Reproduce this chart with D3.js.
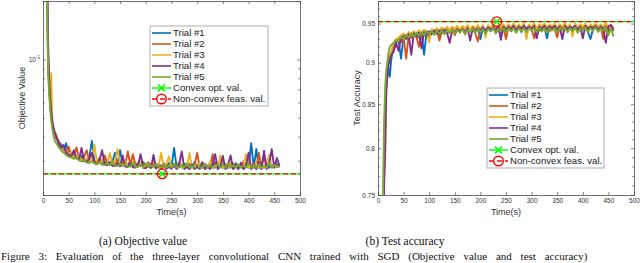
<!DOCTYPE html>
<html><head><meta charset="utf-8">
<script src="https://cdn.jsdelivr.net/npm/d3@7"></script>
<style>
body{margin:0;background:#fff}
svg{display:block}
</style>
</head><body>
<svg id="c" width="640" height="263"></svg>
<script>
// ---------------- DATA ----------------
const times = [5,8,10,12,14,16,18,20,23,26,
 30,35,40,45,50,55,60,65,70,75,80,85,90,95,100,105,110,115,120,125,130,135,140,145,150,
 155,160,165,170,175,180,185,190,195,200,205,210,215,220,225,230,235,240,245,250,
 255,260,265,270,275,280,285,290,295,300,305,310,315,320,325,330,335,340,345,350,
 355,360,365,370,375,380,385,390,395,400,405,410,415,420,425,430,435,440,445,450,455,460];

const trialNames = ["Trial #1","Trial #2","Trial #3","Trial #4","Trial #5"];
const trialColors = ["#0072BD","#D95319","#EDB120","#7E2F8E","#77AC30"];

// Objective value (log scale)
const objTrial1 = [0.5,0.22,0.095,0.072,0.060,0.052,0.047,0.044,0.041,0.040,
 .0375,.0365,.0335,.037,.0322,.0318,.0330,.0311,.0306,.0318,.0302,.0300,.0312,.0380,.0296,
 .0294,.0305,.0292,.0290,.0301,.0289,.0295,.0330,.0287,.0340,.0286,.0292,.0285,.0298,.0284,
 .0283,.0290,.0282,.0296,.0281,.0280,.0288,.0280,.0279,.0290,.0279,.0284,.0278,.0292,.0278,
 .0350,.0278,.0285,.0277,.0290,.0277,.0283,.0277,.0296,.0277,.0284,.0276,.0290,.0276,.0282,
 .0276,.0295,.0276,.0283,.0276,.0288,.0276,.0281,.0276,.0292,.0276,.0285,.0276,.0290,.0276,
 .0370,.0276,.0345,.0276,.0287,.0276,.0293,.0276,.0284,.0280,.0288,.0281];
const objTrial2 = [0.5,0.21,0.092,0.070,0.058,0.051,0.046,0.043,0.040,0.039,
 .0385,.0345,.0340,.0328,.0355,.0320,.0314,.0352,.0308,.0304,.0316,.0340,.0300,.0298,.0300,
 .0296,.0310,.0293,.0320,.0291,.0290,.0302,.0288,.0298,.0287,.0295,.0286,.0335,.0285,.0325,
 .0284,.0293,.0283,.0289,.0282,.0295,.0281,.0287,.0280,.0286,.0280,.0291,.0279,.0285,.0279,
 .0288,.0278,.0297,.0278,.0284,.0278,.0290,.0277,.0286,.0330,.0277,.0289,.0277,.0283,.0277,
 .0325,.0277,.0287,.0277,.0294,.0277,.0284,.0277,.0291,.0277,.0285,.0277,.0298,.0277,.0286,
 .0277,.0292,.0277,.0330,.0277,.0320,.0277,.0289,.0277,.0290,.0282,.0279];
const objTrial3 = [0.5,0.23,0.10,0.078,0.066,0.085,0.050,0.045,0.042,0.041,
 .0360,.0355,.0332,.0340,.0320,.0335,.0312,.0308,.0320,.0302,.0300,.0310,.0297,.0306,.0365,
 .0293,.0291,.0303,.0289,.0288,.0330,.0287,.0296,.0345,.0285,.0284,.0300,.0283,.0282,.0294,
 .0281,.0280,.0298,.0280,.0279,.0287,.0279,.0300,.0278,.0283,.0330,.0278,.0289,.0315,.0277,
 .0284,.0277,.0293,.0277,.0282,.0277,.0330,.0277,.0285,.0277,.0293,.0277,.0281,.0277,.0296,
 .0277,.0283,.0277,.0320,.0277,.0286,.0277,.0294,.0277,.0283,.0277,.0290,.0277,.0325,.0277,
 .0285,.0277,.0291,.0277,.0283,.0277,.0288,.0322,.0277,.0286,.0280,.0278];
const objTrial4 = [0.6,0.3,0.12,0.080,0.063,0.054,0.048,0.045,0.042,0.040,
 .0370,.0350,.0362,.0330,.0322,.0317,.0340,.0309,.0305,.0350,.0299,.0296,.0307,.0330,.0292,
 .0290,.0302,.0340,.0287,.0285,.0295,.0283,.0282,.0291,.0281,.0320,.0280,.0279,.0290,.0278,
 .0277,.0286,.0325,.0276,.0275,.0283,.0275,.0322,.0274,.0281,.0273,.0288,.0273,.0279,.0273,
 .0285,.0272,.0290,.0335,.0272,.0280,.0272,.0287,.0272,.0281,.0272,.0295,.0272,.0283,.0272,
 .0289,.0325,.0272,.0282,.0318,.0272,.0286,.0320,.0272,.0283,.0272,.0293,.0272,.0284,.0330,
 .0272,.0288,.0272,.0295,.0272,.0338,.0272,.0290,.0345,.0276,.0310,.0282];
const objTrial5 = [0.5,0.2,0.088,0.066,0.055,0.048,0.044,0.041,0.038,0.037,
 .0355,.0340,.0330,.0322,.0315,.0312,.0307,.0315,.0301,.0298,.0305,.0294,.0292,.0300,.0290,
 .0288,.0296,.0286,.0285,.0293,.0284,.0298,.0283,.0282,.0290,.0281,.0288,.0280,.0280,.0295,
 .0279,.0279,.0287,.0278,.0291,.0278,.0284,.0277,.0289,.0277,.0277,.0286,.0277,.0283,.0277,
 .0290,.0277,.0277,.0287,.0277,.0292,.0277,.0283,.0277,.0288,.0277,.0277,.0291,.0277,.0284,
 .0277,.0277,.0289,.0277,.0285,.0277,.0293,.0277,.0284,.0277,.0288,.0277,.0283,.0277,.0290,
 .0277,.0285,.0277,.0288,.0277,.0283,.0277,.0292,.0277,.0286,.0278,.0282];

// Test accuracy (log scale)
const accTrial1 = [0.3,0.55,0.70,0.79,0.86,0.87,0.88,0.895,0.883,0.905,
 .918,.926,.929,.905,.933,.935,.930,.937,.934,.938,.932,.939,.910,.940,.936,
 .941,.937,.942,.934,.942,.938,.943,.939,.944,.936,.943,.940,.945,.938,.944,
 .941,.946,.939,.944,.930,.945,.941,.946,.940,.945,.942,.947,.938,.945,.942,
 .947,.940,.946,.943,.947,.939,.946,.943,.948,.941,.946,.943,.947,.940,.946,
 .931,.947,.942,.948,.941,.946,.943,.949,.940,.947,.943,.948,.941,.947,.943,
 .948,.939,.930,.943,.948,.941,.947,.943,.948,.938,.946,.942];
const accTrial2 = [0.3,0.5,0.69,0.78,0.85,0.875,0.89,0.90,0.905,0.91,
 .915,.924,.930,.926,.933,.905,.935,.931,.937,.933,.920,.938,.935,.939,.932,
 .940,.936,.941,.928,.941,.937,.942,.938,.943,.935,.943,.939,.944,.936,.944,
 .940,.945,.937,.927,.941,.945,.938,.945,.941,.946,.937,.945,.942,.946,.930,
 .946,.942,.947,.939,.946,.942,.947,.940,.946,.943,.931,.945,.941,.947,.942,
 .946,.940,.947,.943,.932,.946,.942,.947,.939,.946,.942,.947,.940,.946,.943,
 .947,.941,.946,.943,.947,.940,.946,.930,.947,.942,.946,.940];
const accTrial3 = [0.3,0.52,0.70,0.77,0.785,0.87,0.89,0.90,0.91,0.915,
 .924,.929,.932,.935,.937,.933,.939,.936,.940,.937,.941,.938,.942,.939,.926,
 .943,.940,.944,.941,.945,.942,.946,.941,.946,.943,.947,.942,.947,.944,.948,
 .942,.947,.944,.948,.943,.948,.932,.948,.944,.949,.943,.948,.945,.949,.944,
 .949,.945,.950,.944,.949,.945,.950,.930,.949,.945,.950,.944,.949,.946,.950,
 .945,.949,.946,.950,.944,.949,.946,.950,.945,.949,.933,.950,.945,.949,.946,
 .950,.944,.949,.946,.950,.945,.949,.946,.951,.944,.948,.945];
const accTrial4 = [0.3,0.5,0.68,0.76,0.80,0.86,0.885,0.895,0.905,0.91,
 .913,.925,.915,.931,.934,.930,.936,.910,.937,.933,.938,.918,.939,.935,.940,
 .936,.941,.937,.941,.938,.942,.938,.925,.942,.939,.943,.940,.943,.939,.944,
 .928,.944,.940,.944,.941,.945,.940,.945,.942,.945,.941,.946,.929,.946,.942,
 .946,.943,.947,.941,.946,.943,.947,.942,.946,.943,.947,.931,.946,.943,.947,
 .942,.946,.944,.947,.942,.946,.930,.947,.943,.946,.944,.947,.942,.946,.931,
 .947,.943,.946,.944,.947,.942,.946,.943,.925,.947,.948,.942];
const accTrial5 = [0.35,0.6,0.76,0.83,0.87,0.89,0.90,0.91,0.92,0.922,
 .925,.929,.927,.933,.930,.935,.932,.937,.933,.938,.934,.939,.935,.940,.936,
 .940,.935,.941,.937,.941,.936,.942,.938,.942,.937,.942,.938,.943,.937,.942,
 .939,.943,.938,.943,.939,.943,.937,.943,.940,.944,.938,.943,.940,.944,.939,
 .944,.940,.944,.938,.944,.940,.944,.939,.944,.941,.944,.939,.944,.940,.944,
 .938,.944,.941,.944,.939,.944,.941,.945,.939,.944,.940,.945,.938,.944,.941,
 .945,.939,.944,.941,.945,.939,.944,.941,.945,.935,.944,.933];

const objConvexVal = 0.0257, objNonconvexVal = 0.0257;
const accConvexVal = 0.9525, accNonconvexVal = 0.9525;
const markerTime = 232;

const xTickValues = [0,50,100,150,200,250,300,350,400,450,500];
const objMajorTicks = [0.1];
const objMinorTicks = [0.02,0.03,0.04,0.05,0.06,0.07,0.08,0.09,0.2];
const accTickValues = [0.75,0.8,0.85,0.9,0.95];
const accMinorTicks = [0.76,0.77,0.78,0.79,0.81,0.82,0.83,0.84,0.86,0.87,0.88,0.89,0.91,0.92,0.93,0.94,0.96,0.97,0.98];

const legendLabels = trialNames.concat(["Convex opt. val.","Non-convex feas. val."]);
const captionA = "(a) Objective value";
const captionB = "(b) Test accuracy";
const figureCaption = "Figure 3: Evaluation of the three-layer convolutional CNN trained with SGD (Objective value and test accuracy)";

// ---------------- DRAW ----------------
const SANS = '"Liberation Sans",Arial,Helvetica,sans-serif';
const SERIF = '"Liberation Serif","Times New Roman",serif';
const svg = d3.select("#c");
const axisColor = "#4d4d4d";
const tickFont = 6.5;

function panel(cfg){
  const x = d3.scaleLinear().domain([0,500]).range([cfg.left, cfg.right]);
  const y = d3.scaleLog().domain(cfg.yDomain).range([cfg.bottom, cfg.top]);
  const g = svg.append("g").style("font-family", SANS);
  const clipId = "clip" + cfg.id;
  svg.append("clipPath").attr("id", clipId).append("rect")
    .attr("x", cfg.left).attr("y", cfg.top).attr("width", cfg.right-cfg.left).attr("height", cfg.bottom-cfg.top);

  const plot = g.append("g").attr("clip-path", `url(#${clipId})`);
  const line = d3.line().x((d,i)=>x(times[i])).y(d=>y(d));
  cfg.series.forEach((s,i)=>{
    plot.append("path").attr("d", line(s)).attr("fill","none")
      .attr("stroke", trialColors[i]).attr("stroke-width",1.9).attr("stroke-linejoin","round");
  });
  // reference lines
  plot.append("line").attr("x1",x(0)).attr("x2",x(500)).attr("y1",y(cfg.convex)).attr("y2",y(cfg.convex))
    .attr("stroke","#00ff00").attr("stroke-width",1.4);
  plot.append("line").attr("x1",x(0)).attr("x2",x(500)).attr("y1",y(cfg.nonconvex)).attr("y2",y(cfg.nonconvex))
    .attr("stroke","#ff0000").attr("stroke-width",1.4).attr("stroke-dasharray","5,3");
  drawX(g, x(markerTime), y(cfg.convex));
  drawO(g, x(markerTime), y(cfg.nonconvex));

  // axes
  const bottomAx = g.append("g").attr("transform",`translate(0,${cfg.bottom})`)
    .call(d3.axisBottom(x).tickValues(xTickValues).tickSize(-3).tickPadding(3).tickFormat(d3.format("d")));
  const topAx = g.append("g").attr("transform",`translate(0,${cfg.top})`)
    .call(d3.axisTop(x).tickValues(xTickValues).tickSize(-3).tickFormat(""));
  const leftAx = g.append("g").attr("transform",`translate(${cfg.left},0)`)
    .call(d3.axisLeft(y).tickValues(cfg.majorTicks).tickSize(-3).tickPadding(3).tickFormat(cfg.tickFormat));
  const rightAx = g.append("g").attr("transform",`translate(${cfg.right},0)`)
    .call(d3.axisRight(y).tickValues(cfg.majorTicks).tickSize(-3).tickFormat(""));
  const leftMin = g.append("g").attr("transform",`translate(${cfg.left},0)`)
    .call(d3.axisLeft(y).tickValues(cfg.minorTicks).tickSize(-1.8).tickFormat(""));
  const rightMin = g.append("g").attr("transform",`translate(${cfg.right},0)`)
    .call(d3.axisRight(y).tickValues(cfg.minorTicks).tickSize(-1.8).tickFormat(""));
  [bottomAx,topAx,leftAx,rightAx,leftMin,rightMin].forEach(a=>{
    a.attr("font-family", null);
    a.selectAll(".domain").attr("stroke",axisColor).attr("stroke-width",0.8);
    a.selectAll(".tick line").attr("stroke",axisColor).attr("stroke-width",0.7);
    a.selectAll("text").attr("font-size",tickFont).attr("fill","#333").style("font-family",SANS);
  });
  leftMin.select(".domain").remove(); rightMin.select(".domain").remove();
  if(cfg.superscript){
    leftAx.selectAll(".tick text").append("tspan").text("-1")
      .attr("font-size",4.5).attr("dy",-3);
  }
  // axis labels
  g.append("text").attr("x",(cfg.left+cfg.right)/2).attr("y",cfg.bottom+20)
    .attr("text-anchor","middle").attr("font-size",9).attr("fill","#333").text("Time(s)");
  g.append("text").attr("transform",`translate(${cfg.ylabelX},${(cfg.top+cfg.bottom)/2}) rotate(-90)`)
    .attr("text-anchor","middle").attr("font-size",9).attr("fill","#333").text(cfg.ylabel);

  // legend
  const L = cfg.legend;
  const lg = g.append("g");
  lg.append("rect").attr("x",L.x).attr("y",L.y).attr("width",L.w).attr("height",L.h)
    .attr("fill","#fff").attr("stroke","#9a9a9a").attr("stroke-width",0.8);
  legendLabels.forEach((lab,i)=>{
    const yy = L.y + 7 + i*11;
    const x0 = L.x + 2, x1 = L.x + 21;
    if(i<5){
      lg.append("line").attr("x1",x0).attr("x2",x1).attr("y1",yy).attr("y2",yy)
        .attr("stroke",trialColors[i]).attr("stroke-width",1.6);
    } else if(i===5){
      lg.append("line").attr("x1",x0).attr("x2",x1).attr("y1",yy).attr("y2",yy)
        .attr("stroke","#00ff00").attr("stroke-width",1.4);
      drawX(lg,(x0+x1)/2,yy);
    } else {
      lg.append("line").attr("x1",x0).attr("x2",x1).attr("y1",yy).attr("y2",yy)
        .attr("stroke","#ff0000").attr("stroke-width",1.4).attr("stroke-dasharray","5,3");
      drawO(lg,(x0+x1)/2,yy);
    }
    lg.append("text").attr("x",L.x+23).attr("y",yy+3.3).attr("font-size",9.6).attr("fill","#222").text(lab);
  });
}

function drawX(g,cx,cy){
  const s=3.4;
  g.append("path").attr("d",`M${cx-s},${cy-s}L${cx+s},${cy+s}M${cx-s},${cy+s}L${cx+s},${cy-s}`)
    .attr("stroke","#00ff00").attr("stroke-width",1.5).attr("fill","none");
}
function drawO(g,cx,cy){
  g.append("circle").attr("cx",cx).attr("cy",cy).attr("r",4.8)
    .attr("fill","none").attr("stroke","#ff0000").attr("stroke-width",1.4);
}

panel({id:"a", left:43, right:300, top:1, bottom:195, yDomain:[0.02,0.2],
  series:[objTrial1,objTrial2,objTrial3,objTrial4,objTrial5],
  convex:objConvexVal, nonconvex:objNonconvexVal,
  majorTicks:objMajorTicks, minorTicks:objMinorTicks, tickFormat:()=>"10", superscript:true,
  ylabel:"Objective Value", ylabelX:25,
  legend:{x:150,y:26,w:118,h:80}});

panel({id:"b", left:378, right:634, top:1, bottom:195, yDomain:[0.75,0.98],
  series:[accTrial1,accTrial2,accTrial3,accTrial4,accTrial5],
  convex:accConvexVal, nonconvex:accNonconvexVal,
  majorTicks:accTickValues, minorTicks:accMinorTicks, tickFormat:d3.format("~g"), superscript:false,
  ylabel:"Test Accuracy", ylabelX:360,
  legend:{x:487,y:88,w:117,h:80}});

// captions
const cap = svg.append("g").style("font-family", SERIF);
cap.append("text").attr("x",143).attr("y",245).attr("text-anchor","middle").attr("font-size",11.5)
  .style("font-family",SERIF).attr("fill","#111").text(captionA);
cap.append("text").attr("x",405).attr("y",245).attr("text-anchor","middle").attr("font-size",11.5)
  .style("font-family",SERIF).attr("fill","#111").text(captionB);
cap.append("text").attr("x",1).attr("y",260).attr("font-size",11)
  .style("word-spacing","6px")
  .style("font-family",SERIF).attr("fill","#111").text(figureCaption);
</script>
</body></html>
